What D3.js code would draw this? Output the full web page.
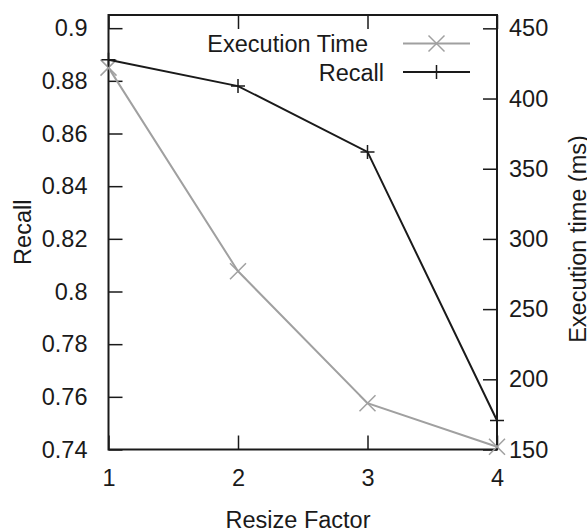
<!DOCTYPE html>
<html>
<head>
<meta charset="utf-8">
<script src="https://cdn.jsdelivr.net/npm/d3@7"></script>
<style>
  body { margin: 0; background: #fff; }
  svg text { font-family: "Liberation Sans", Arial, sans-serif; fill: #1a1a1a; }
</style>
</head>
<body>
<svg id="chart" width="587" height="528"></svg>
<script>
// values
var factors = [1, 2, 3, 4];
var recall = [0.888, 0.878, 0.853, 0.751];
var execTime = [422, 277, 183, 152];

var recallTicks = [0.74, 0.76, 0.78, 0.8, 0.82, 0.84, 0.86, 0.88, 0.9];
var recallTickLabels = ["0.74", "0.76", "0.78", "0.8", "0.82", "0.84", "0.86", "0.88", "0.9"];
var timeTicks = [150, 200, 250, 300, 350, 400, 450];

// plot box (note: "top" is taken by window.top, so use other names)
var plotLeft = 108.5, plotRight = 497, plotTop = 15, plotBottom = 449.5;
var ink = "#1a1a1a", grey = "#a0a0a0";
var fontSize = 23.5;

var svg = d3.select("#chart");

var x = d3.scaleLinear().domain([1, 4]).range([plotLeft, plotRight]);
var yL = d3.scaleLinear().domain([0.74, 0.905]).range([plotBottom, plotTop]);
var yR = d3.scaleLinear().domain([150, 459.5]).range([plotBottom, plotTop]);

// axes with inward ticks
var axL = svg.append("g").attr("transform", "translate(" + plotLeft + ",0)")
  .call(d3.axisLeft(yL).tickValues(recallTicks)
    .tickFormat(function (d, i) { return recallTickLabels[i]; })
    .tickSize(-14).tickPadding(21));
var axR = svg.append("g").attr("transform", "translate(" + plotRight + ",0)")
  .call(d3.axisRight(yR).tickValues(timeTicks).tickSize(-14).tickPadding(12));
var axB = svg.append("g").attr("transform", "translate(0," + plotBottom + ")")
  .call(d3.axisBottom(x).tickValues(factors).tickFormat(d3.format("d"))
    .tickSize(-14).tickPadding(20));
var axT = svg.append("g").attr("transform", "translate(0," + plotTop + ")")
  .call(d3.axisTop(x).tickValues(factors).tickFormat("").tickSize(-14));

[axL, axR, axB, axT].forEach(function (g) {
  g.select(".domain").remove();
  g.selectAll(".tick line").attr("stroke", ink).attr("stroke-width", 1.5);
  g.selectAll(".tick text").attr("font-size", fontSize).style("fill", ink);
});

// frame
svg.append("rect")
  .attr("x", plotLeft).attr("y", plotTop)
  .attr("width", plotRight - plotLeft).attr("height", plotBottom - plotTop)
  .attr("fill", "none").attr("stroke", ink).attr("stroke-width", 2);

// axis titles
svg.append("text")
  .attr("transform", "translate(31," + (plotTop + plotBottom) / 2 + ") rotate(-90)")
  .attr("text-anchor", "middle").attr("font-size", fontSize)
  .text("Recall");
svg.append("text")
  .attr("transform", "translate(586,239) rotate(-90)")
  .attr("text-anchor", "middle").attr("font-size", fontSize)
  .text("Execution time (ms)");
svg.append("text")
  .attr("x", 298).attr("y", 528)
  .attr("text-anchor", "middle").attr("font-size", fontSize)
  .text("Resize Factor");

// markers
function crossPath(cx, cy, r) {
  return "M" + (cx - r) + "," + (cy - r) + "L" + (cx + r) + "," + (cy + r) +
    "M" + (cx - r) + "," + (cy + r) + "L" + (cx + r) + "," + (cy - r);
}
function plusPath(cx, cy, r) {
  return "M" + (cx - r) + "," + cy + "L" + (cx + r) + "," + cy +
    "M" + cx + "," + (cy - r) + "L" + cx + "," + (cy + r);
}

// execution time series (right axis)
var timeLine = d3.line()
  .x(function (d, i) { return x(factors[i]); })
  .y(function (d) { return yR(d); });
svg.append("path").datum(execTime)
  .attr("d", timeLine).attr("fill", "none")
  .attr("stroke", grey).attr("stroke-width", 2);
svg.selectAll(".tmark").data(execTime).enter().append("path")
  .attr("class", "tmark")
  .attr("d", function (d, i) { return crossPath(x(factors[i]), yR(d), 8); })
  .attr("stroke", grey).attr("stroke-width", 1.5);

// recall series (left axis)
var recallLine = d3.line()
  .x(function (d, i) { return x(factors[i]); })
  .y(function (d) { return yL(d); });
svg.append("path").datum(recall)
  .attr("d", recallLine).attr("fill", "none")
  .attr("stroke", ink).attr("stroke-width", 2);
svg.selectAll(".rmark").data(recall).enter().append("path")
  .attr("class", "rmark")
  .attr("d", function (d, i) { return plusPath(x(factors[i]), yL(d), 7); })
  .attr("stroke", ink).attr("stroke-width", 1.5);

// legend
var legend = [
  { name: "Execution Time", color: grey, end: 368, y: 43.5, mark: crossPath, r: 8 },
  { name: "Recall", color: ink, end: 384, y: 72, mark: plusPath, r: 7 }
];
legend.forEach(function (d) {
  svg.append("text")
    .attr("x", d.end).attr("y", d.y + 8.5)
    .attr("text-anchor", "end").attr("font-size", fontSize)
    .text(d.name);
  svg.append("line")
    .attr("x1", 403).attr("x2", 470).attr("y1", d.y).attr("y2", d.y)
    .attr("stroke", d.color).attr("stroke-width", 2);
  svg.append("path")
    .attr("d", d.mark(436.5, d.y, d.r))
    .attr("stroke", d.color).attr("stroke-width", 1.5);
});
</script>
</body>
</html>
